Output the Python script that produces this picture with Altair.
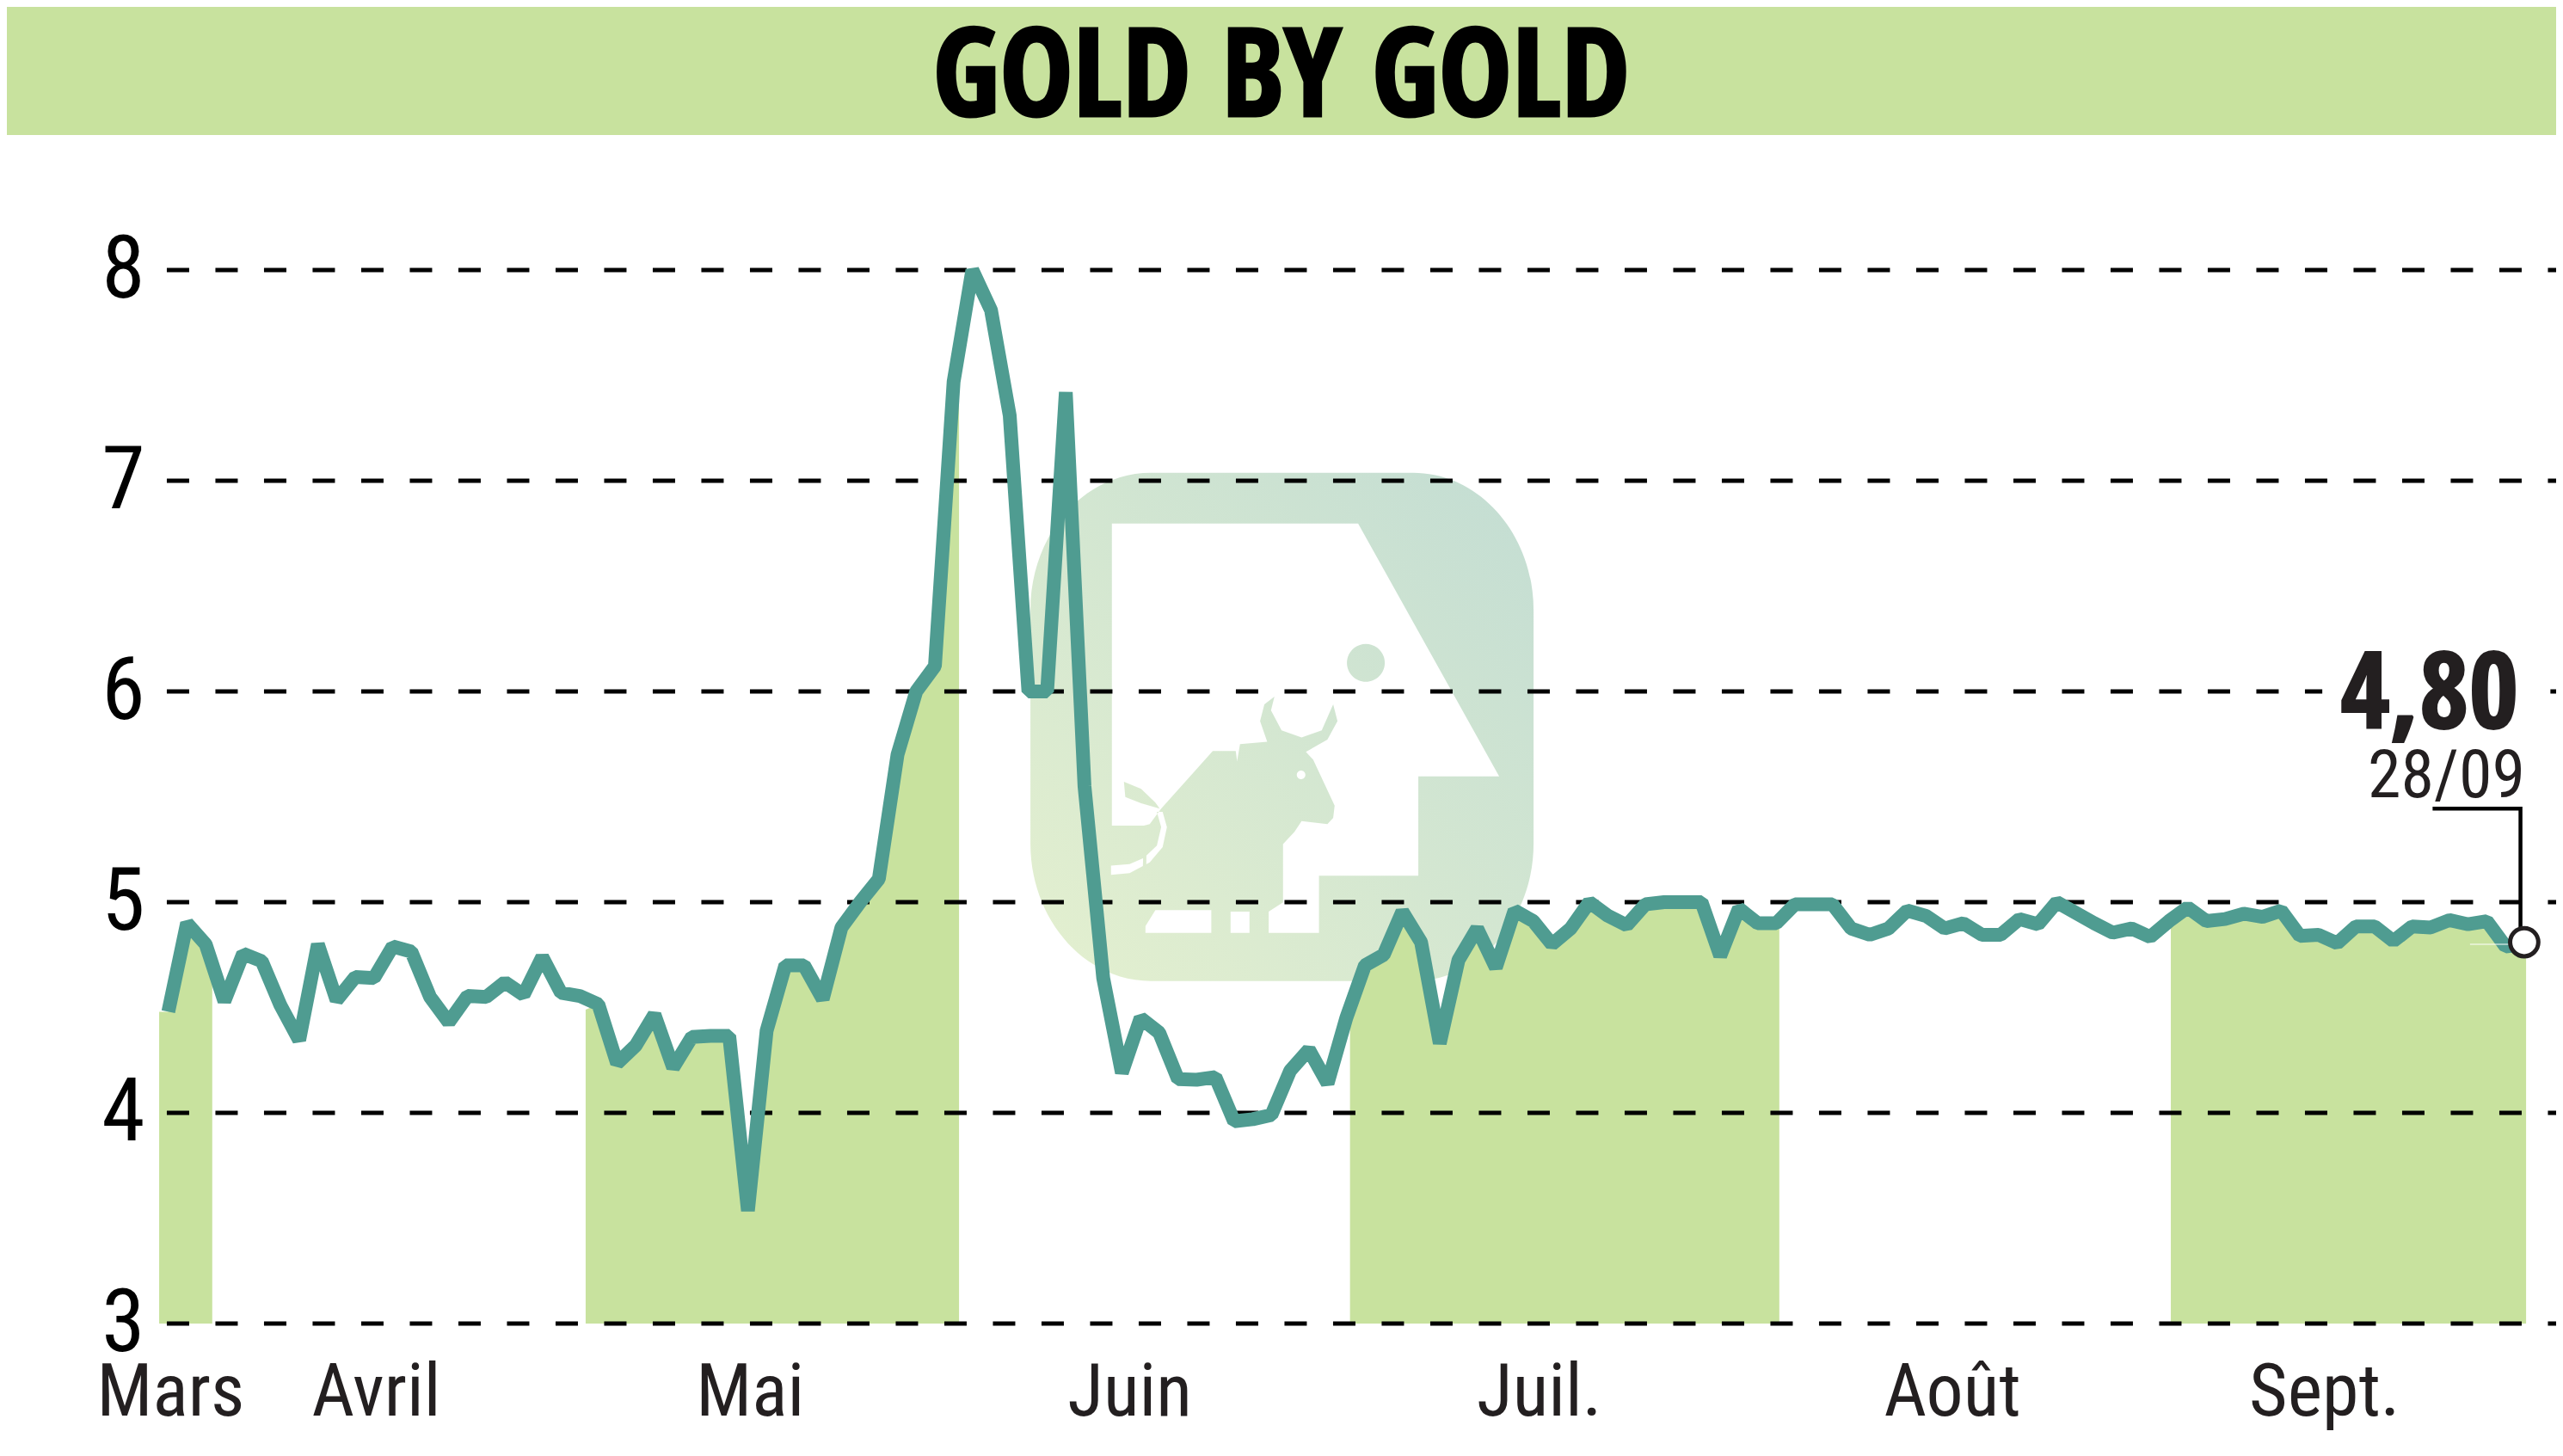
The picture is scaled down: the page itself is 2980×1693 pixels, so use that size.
import altair as alt
import pandas as pd

# Closing prices, one per session
prices = [
    4.48, 4.90, 4.80, 4.53, 4.755, 4.72, 4.51, 4.345, 4.80, 4.535,
    4.645, 4.64, 4.79, 4.765, 4.55, 4.43, 4.555, 4.55, 4.62, 4.56,
    4.74, 4.57, 4.555, 4.515, 4.235, 4.32, 4.467, 4.215, 4.36, 4.365,
    4.365, 3.535, 4.39, 4.70, 4.70, 4.54, 4.88, 5.0, 5.11, 5.70,
    6.0, 6.12, 7.47, 8.0, 7.81, 7.31, 6.0, 6.0, 7.42, 5.55,
    4.64, 4.19, 4.45, 4.38, 4.16, 4.157, 4.17, 3.96, 3.97, 3.99,
    4.20, 4.30, 4.14, 4.45, 4.70, 4.75, 4.955, 4.81, 4.33, 4.725,
    4.875, 4.69, 4.96, 4.91, 4.80, 4.875, 5.0, 4.935, 4.89, 4.99,
    5.0, 5.0, 5.0, 4.745, 4.97, 4.90, 4.90, 4.99, 4.99, 4.99,
    4.875, 4.845, 4.875, 4.96, 4.935, 4.875, 4.90, 4.845, 4.845, 4.92,
    4.895, 5.0, 4.95, 4.90, 4.855, 4.875, 4.835, 4.91, 4.975, 4.91,
    4.92, 4.945, 4.93, 4.96, 4.84, 4.845, 4.805, 4.885, 4.885, 4.815,
    4.885, 4.88, 4.915, 4.895, 4.91, 4.79, 4.80,
]
sessions = list(range(len(prices)))

month_names = ["Mars", "Avril", "Mai", "Juin", "Juil.", "Août", "Sept."]
month_pos = [0.1, 11.1, 31.1, 51.4, 73.3, 95.4, 115.3]
y_ticks = [3, 4, 5, 6, 7, 8]

# Shaded months: start, end, and the height of the fill at both edges
band_start = [-0.49, 22.32, 63.2, 107.1]
band_end = [2.35, 42.29, 86.16, 126.1]
band_start_val = [4.48, 4.49, 4.47, 4.89]
band_end_val = [4.62, 7.38, 4.90, 4.78]

leader_x = [121.1, 125.8, 125.8]
leader_y = [5.444, 5.444, 4.88]

PLOT_W = 2787
X_MIN, X_MAX = -0.492, 127.706
GRID_START = -0.08
LIGHT = "Roboto Condensed"
HEAVY = "Open Sans Condensed"
GREEN = "#C8E29E"
TEAL = "#4F9C91"
INK = "#231F20"

rows = []
for i in range(len(band_start)):
    rows.append({"band": i, "s": band_start[i], "v": band_start_val[i]})
    for s, v in zip(sessions, prices):
        if band_start[i] < s < band_end[i]:
            rows.append({"band": i, "s": s, "v": v})
    rows.append({"band": i, "s": band_end[i], "v": band_end_val[i]})
shade = pd.DataFrame(rows)
line_df = pd.DataFrame({"s": sessions, "v": prices})
grid_df = pd.DataFrame({"v": y_ticks, "s": GRID_START, "s2": X_MAX})
leader_df = pd.DataFrame({"s": leader_x, "v": leader_y, "o": [0, 1, 2]})

label_lookup = "{" + ",".join(f"'{p}':'{n}'" for p, n in zip(month_pos, month_names)) + "}"

# every layer shares these two, so Vega-Lite merges them into one axis each
x_enc = alt.X(
    "s:Q",
    scale=alt.Scale(domain=[X_MIN, X_MAX], nice=False, zero=False),
    axis=alt.Axis(
        values=month_pos,
        labelExpr=f"{label_lookup}[datum.value]",
        title=None,
        domain=False,
        ticks=False,
        grid=False,
        labelFont=LIGHT,
        labelFontSize=86,
        labelColor=INK,
        labelBaseline="alphabetic",
        labelPadding=106,
        labelOverlap=False,
        labelFlush=False,
        labelBound=False,
    ),
)
y_enc = alt.Y(
    "v:Q",
    scale=alt.Scale(domain=[3, 8], nice=False, zero=False),
    axis=alt.Axis(
        values=y_ticks,
        title=None,
        domain=False,
        ticks=False,
        grid=False,
        labelFont=LIGHT,
        labelFontSize=102,
        labelColor="black",
        labelPadding=17,
        labelOverlap=False,
        labelFlush=False,
        labelBound=False,
    ),
)

# Logo behind the curve, one path, drawn around a centre point in pixels
CX, CY = 1490, 845


def poly(pts):
    return "M" + "L".join(f"{x - CX:.1f},{y - CY:.1f}" for x, y in pts) + "Z"


def z7(pts):
    return poly([(1180 + a / 3, 780 + b / 2.8) for a, b in pts])


def circle(x, y, r, sweep):
    x, y = x - CX, y - CY
    return (f"M{x - r},{y}A{r},{r} 0 1 {sweep} {x + r},{y}"
            f"A{r},{r} 0 1 {sweep} {x - r},{y}Z")


L, R, T, B = 1198, 1783, 550, 1141
RX, RY = 140, 160
outer = (f"M{L + RX - CX},{T - CY}L{R - RX - CX},{T - CY}A{RX},{RY} 0 0 1 {R - CX},{T + RY - CY}"
         f"L{R - CX},{B - RY - CY}A{RX},{RY} 0 0 1 {R - RX - CX},{B - CY}"
         f"L{L + RX - CX},{B - CY}A{RX},{RY} 0 0 1 {L - CX},{B - RY - CY}"
         f"L{L - CX},{T + RY - CY}A{RX},{RY} 0 0 1 {L + RX - CX},{T - CY}Z")
house = poly([(1292.7, 609), (1292.7, 960.4), (1333.3, 960.4), (1331.7, 1085), (1533.5, 1085),
              (1533.5, 1018.6), (1649, 1018.6), (1649, 903), (1743, 903), (1579, 609)])
bull = z7([(450, 505), (470, 500), (510, 450), (690, 262), (770, 262), (775, 295), (785, 240),
           (880, 232), (855, 165), (870, 110), (905, 85), (893, 130), (930, 195), (1000, 218),
           (1070, 195), (1110, 110), (1125, 165), (1090, 225), (1015, 265), (1040, 290),
           (1115, 440), (1110, 480), (1090, 500), (1000, 490), (975, 525), (935, 565),
           (935, 755), (885, 785), (885, 855), (818, 855), (818, 785), (752, 785), (752, 855),
           (685, 855), (685, 780), (490, 780), (440, 855)])
tail_tip = z7([(380, 362), (440, 385), (490, 430), (505, 450), (440, 432), (385, 412)])
tail_gap = z7([(335, 665), (400, 660), (470, 625), (515, 575), (530, 510), (515, 460),
               (495, 460), (510, 510), (495, 570), (450, 610), (400, 630), (335, 635)])
logo_path = (outer + house + bull + tail_tip + tail_gap
             + circle(1588, 771, 22, 1) + circle(1512.7, 901.4, 5, 0))

logo = alt.Chart(pd.DataFrame({"s": [59.54], "v": [5.834]})).mark_point(
    shape=logo_path,
    size=4,
    filled=True,
    opacity=1,
    strokeWidth=0,
    fill=alt.Gradient(
        gradient="linear",
        x1=0, y1=1, x2=1, y2=0,
        stops=[alt.GradientStop(color="#E4F0CF", offset=0),
               alt.GradientStop(color="#C3DDD3", offset=1)],
    ),
).encode(x=x_enc, y=y_enc)

area = alt.Chart(shade).mark_area(color=GREEN, opacity=1).encode(
    x=x_enc,
    y=y_enc,
    y2=alt.datum(3),
    detail="band:N",
)

grid = alt.Chart(grid_df).mark_rule(color="black", strokeWidth=4.8, strokeDash=[26, 30.5]).encode(
    x=x_enc,
    x2="s2:Q",
    y=y_enc,
)

# clears the dashes behind the last price
label_gap = alt.Chart(
    pd.DataFrame({"s": [115.2], "s2": [127.4], "v": [6.1], "v2": [5.9]})
).mark_rect(color="white").encode(x=x_enc, x2="s2:Q", y=y_enc, y2="v2:Q")

line = alt.Chart(line_df).mark_line(color=TEAL, strokeWidth=16, strokeJoin="bevel").encode(
    x=x_enc, y=y_enc
)

hairline = alt.Chart(pd.DataFrame({"v": [4.80], "s": [123.1], "s2": [125.2]})).mark_rule(
    color="white", strokeWidth=1.2
).encode(x=x_enc, x2="s2:Q", y=y_enc)

leader = alt.Chart(leader_df).mark_line(color="black", strokeWidth=4.5, strokeJoin="miter").encode(
    x=x_enc,
    y=y_enc,
    order="o:Q",
)

last = alt.Chart(pd.DataFrame({"s": [126], "v": [4.81]})).mark_point(
    shape="circle", size=1075, filled=True, fill="white", stroke=INK, strokeWidth=5, opacity=1
).encode(x=x_enc, y=y_enc)

value_text = alt.Chart(pd.DataFrame({"s": [125.7], "v": [5.823], "t": ["4,80"]})).mark_text(
    font=HEAVY, fontSize=125, align="right", baseline="alphabetic",
    color=INK, stroke=INK, strokeWidth=2
).encode(x=x_enc, y=y_enc, text="t:N")

date_text = alt.Chart(pd.DataFrame({"s": [126.05], "v": [5.50], "t": ["28/09"]})).mark_text(
    font=LIGHT, fontSize=78, align="right", baseline="alphabetic", color=INK
).encode(x=x_enc, y=y_enc, text="t:N")

# Title band sits above the plot area, in pixels from its top left corner
band = alt.Chart(pd.DataFrame({"a": [0]})).mark_rect(color=GREEN).encode(
    x=alt.value(-177), x2=alt.value(PLOT_W), y=alt.value(-306), y2=alt.value(-157)
)
title = alt.Chart(pd.DataFrame({"t": ["GOLD BY GOLD"]})).mark_text(
    font=HEAVY, fontSize=143, align="center", baseline="alphabetic",
    color="black", stroke="black", strokeWidth=3
).encode(x=alt.value(1305), y=alt.value(-179), text="t:N")

chart = alt.layer(
    logo, area, grid, label_gap, line, hairline, leader, last, value_text, date_text, band, title
).properties(
    width=PLOT_W,
    height=1225,
    autosize="none",
    padding={"left": 177, "top": 306, "right": 0, "bottom": 139},
).configure_view(stroke=None)

chart.save("out.html", embed_options={"renderer": "svg", "actions": False})
